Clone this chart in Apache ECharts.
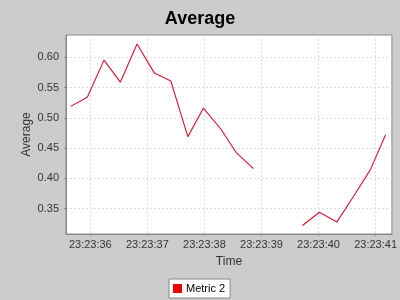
<!DOCTYPE html>
<html>
<head>
<meta charset="utf-8">
<script src="https://cdn.jsdelivr.net/npm/echarts@6/dist/echarts.min.js"></script>
<style>html,body{margin:0;padding:0;background:#cccccc;}#c{width:400px;height:300px;}</style>
</head>
<body>
<div id="c"></div>
<script>
// seconds of day (23:23:xx.xxx), null values = gap in the data
var times = [84215.656, 84215.947, 84216.240, 84216.526, 84216.819, 84217.123, 84217.411, 84217.709, 84217.982, 84218.284, 84218.562, 84218.860, 84219.150, 84219.430, 84219.719, 84220.015, 84220.323, 84220.612, 84220.907, 84221.175];
var values = [0.519, 0.534, 0.5955, 0.559, 0.622, 0.574, 0.561, 0.469, 0.516, 0.482, 0.442, 0.416, null, null, 0.322, 0.344, 0.328, 0.370, 0.414, 0.472];
var xTicks = [84216, 84217, 84218, 84219, 84220, 84221];
var yTicks = [0.35, 0.40, 0.45, 0.50, 0.55, 0.60];
var seriesName = 'Metric 2';

function fmtTime(v) {
  var s = Math.round(v);
  var h = Math.floor(s / 3600), m = Math.floor((s % 3600) / 60), sec = s % 60;
  function p(n) { return (n < 10 ? '0' : '') + n; }
  return p(h) + ':' + p(m) + ':' + p(sec);
}

var data = times.map(function (t, i) { return [t, values[i] === null ? '-' : values[i]]; });
var font = 'Liberation Sans, Arial, sans-serif';
var chart = echarts.init(document.getElementById('c'), null, { renderer: 'canvas' });
chart.setOption({
  backgroundColor: '#cccccc',
  animation: false,
  title: {
    text: 'Average', left: 'center', top: 10, padding: 0,
    textStyle: { fontFamily: font, fontSize: 18, fontWeight: 'bold', color: '#000' }
  },
  legend: {
    bottom: 2, left: 169, padding: [4, 5, 4, 4],
    backgroundColor: '#ffffff', borderColor: '#888888', borderWidth: 1, borderRadius: 0,
    icon: 'rect', itemWidth: 9, itemHeight: 9, itemGap: 4,
    textStyle: { fontFamily: font, fontSize: 11, color: '#000', padding: [0, 0, 0, -1] },
    data: [{ name: seriesName, itemStyle: { color: '#ee0000' } }]
  },
  grid: {
    left: 66, right: 8, top: 35, bottom: 66, show: true,
    backgroundColor: '#ffffff', borderColor: '#888888', borderWidth: 1
  },
  xAxis: {
    type: 'value', min: 84215.574, max: 84221.286,
    name: 'Time', nameLocation: 'middle', nameGap: 22, nameMoveOverlap: false,
    nameTextStyle: { fontFamily: font, fontSize: 12, color: '#333' },
    axisLine: { show: true, lineStyle: { color: '#888888' } },
    axisTick: { show: true, length: 2, customValues: xTicks, lineStyle: { color: '#888888' } },
    axisLabel: { customValues: xTicks, margin: 5, fontFamily: font, fontSize: 11, color: '#333', formatter: fmtTime },
    splitLine: { show: true, customValues: xTicks, lineStyle: { color: '#dddddd', type: [2, 2] } }
  },
  yAxis: {
    type: 'value', min: 0.308, max: 0.637,
    name: 'Average', nameLocation: 'middle', nameGap: 33, nameRotate: 90, nameMoveOverlap: false,
    nameTextStyle: { fontFamily: font, fontSize: 12, color: '#333' },
    axisLine: { show: true, lineStyle: { color: '#888888' } },
    axisTick: { show: true, length: 2, customValues: yTicks, lineStyle: { color: '#888888' } },
    axisLabel: { customValues: yTicks, margin: 7, fontFamily: font, fontSize: 11, color: '#333', formatter: function (v) { return v.toFixed(2); } },
    splitLine: { show: true, customValues: yTicks, lineStyle: { color: '#dddddd', type: [2, 2] } }
  },
  series: [{
    name: seriesName, type: 'line', data: data, showSymbol: false, connectNulls: false,
    lineStyle: { color: '#e0102e', width: 1.1 }, itemStyle: { color: '#ee0000' }
  }]
});
</script>
</body>
</html>
